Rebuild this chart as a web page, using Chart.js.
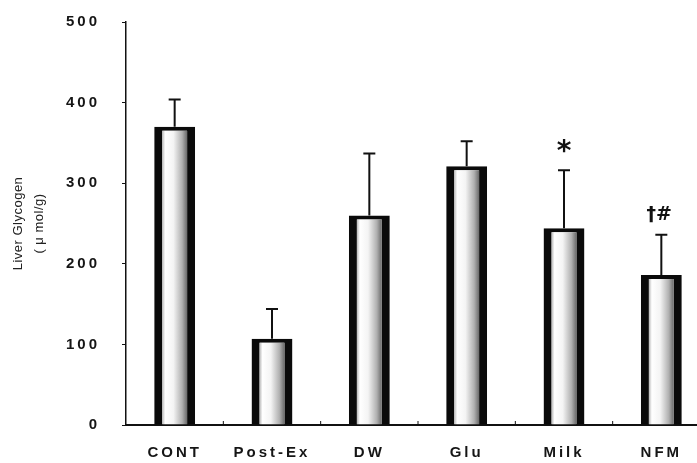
<!DOCTYPE html>
<html>
<head>
<meta charset="utf-8">
<script src="https://cdn.jsdelivr.net/npm/chart.js@4"></script>
<style>
  html, body { margin: 0; padding: 0; background: #fff; overflow: hidden; }
  canvas { display: block; }
</style>
</head>
<body>
<canvas id="myChart" width="715" height="463"></canvas>
<script>
// values
var groups = ['CONT', 'Post-Ex', 'DW', 'Glu', 'Milk', 'NFM'];
var glycogen = [370, 107, 260, 321, 244, 186];
var glycogenSE = [34, 37, 77, 31, 72, 50];
var marks = ['', '', '', '', '*', '\u2020#'];
var yTicks = [0, 100, 200, 300, 400, 500];

var BAR_PCT = 0.42;

// grey shading inside each bar, built from the x scale
function barFill(c) {
    var chart = c.chart;
    var xs = chart.scales.x;
    if (!xs || c.dataIndex === undefined) return '#ddd';
    var cx = xs.getPixelForValue(c.dataIndex);
    var w = (xs.width / groups.length) * BAR_PCT;
    if (!isFinite(cx) || !isFinite(w) || w <= 16) return '#ddd';
    var g = chart.ctx.createLinearGradient(cx - w / 2 + 8, 0, cx + w / 2 - 8, 0);
    g.addColorStop(0, '#b8b8b8');
    g.addColorStop(0.12, '#ffffff');
    g.addColorStop(0.45, '#f4f4f4');
    g.addColorStop(0.8, '#b0b0b0');
    g.addColorStop(1, '#6a6a6a');
    return g;
}

// error bars, small x ticks and significance marks
var extras = {
    id: 'extras',
    beforeDraw: function(chart) {
        chart.ctx.letterSpacing = '0.5px';
    },
    afterDatasetsDraw: function(chart) {
        var ctx = chart.ctx;
        var xs = chart.scales.x, ys = chart.scales.y;
        ctx.save();
        ctx.letterSpacing = '0px';
        ctx.strokeStyle = '#111';
        ctx.fillStyle = '#111';
        groups.forEach(function(g, i) {
            var x = xs.getPixelForValue(i);
            var y0 = ys.getPixelForValue(glycogen[i]);
            var y1 = ys.getPixelForValue(glycogen[i] + glycogenSE[i]);
            ctx.lineWidth = 2;
            ctx.beginPath();
            ctx.moveTo(x, y0);
            ctx.lineTo(x, y1);
            ctx.moveTo(x - 6, y1);
            ctx.lineTo(x + 6, y1);
            ctx.stroke();
            if (marks[i]) {
                ctx.textAlign = 'center';
                ctx.textBaseline = 'alphabetic';
                if (marks[i] === '*') {
                    ctx.font = 'bold 28px "DejaVu Sans"';
                    ctx.fillText(marks[i], x, y1 - 10);
                } else {
                    ctx.font = 'bold 19px "DejaVu Sans"';
                    ctx.fillText(marks[i], x - 2, y1 - 15);
                }
            }
        });
        // little inward ticks between groups on the x axis
        ctx.lineWidth = 1;
        var bottom = chart.chartArea.bottom;
        for (var k = 1; k < groups.length; k++) {
            var xt = (xs.getPixelForValue(k - 1) + xs.getPixelForValue(k)) / 2;
            ctx.beginPath();
            ctx.moveTo(xt, bottom);
            ctx.lineTo(xt, bottom - 4);
            ctx.stroke();
        }
        ctx.restore();
        // tick labels are drawn after this (ticks z: 1), spaced out like the scan
        ctx.letterSpacing = '3px';
    },
    afterDraw: function(chart) {
        chart.ctx.letterSpacing = '0px';
    }
};

var ctx = document.getElementById('myChart').getContext('2d');
var myChart = new Chart(ctx, {
    type: 'bar',
    data: {
        labels: groups,
        datasets: [{
            label: 'Liver Glycogen',
            data: glycogen,
            backgroundColor: barFill,
            borderColor: '#0a0a0a',
            borderWidth: { left: 8, right: 8, top: 4, bottom: 0 },
            borderSkipped: false,
            barPercentage: BAR_PCT,
            categoryPercentage: 1
        }]
    },
    options: {
        responsive: false,
        animation: false,
        layout: { padding: { top: 22, right: 5, left: 0, bottom: 0 } },
        plugins: {
            legend: { display: false },
            tooltip: { enabled: false }
        },
        scales: {
            x: {
                offset: true,
                grid: { display: false, drawTicks: false },
                border: { display: true, color: '#111', width: 2 },
                ticks: {
                    z: 1,
                    color: '#151515',
                    padding: 19,
                    font: { family: 'Liberation Sans', size: 15, weight: 'bold' }
                },
                afterFit: function(s) { s.height = 38; }
            },
            y: {
                min: 0,
                max: 500,
                afterBuildTicks: function(s) {
                    s.ticks = yTicks.map(function(v) { return { value: v }; });
                },
                grid: {
                    drawOnChartArea: false,
                    drawTicks: true,
                    tickLength: 4,
                    color: '#111'
                },
                border: { display: true, color: '#111', width: 1.5 },
                ticks: {
                    z: 1,
                    color: '#151515',
                    padding: 22,
                    font: { family: 'Liberation Sans', size: 15, weight: 'bold' }
                },
                title: {
                    display: true,
                    text: ['Liver Glycogen', '( \u03bc mol/g)'],
                    color: '#222',
                    padding: { top: 8, bottom: 0 },
                    font: { family: 'Liberation Sans', size: 13, lineHeight: 1.6 }
                },
                afterFit: function(s) {
                    s.width = 126;
                    s.paddingTop = 0;
                    s.paddingBottom = 0;
                }
            }
        }
    },
    plugins: [extras]
});
</script>
</body>
</html>
